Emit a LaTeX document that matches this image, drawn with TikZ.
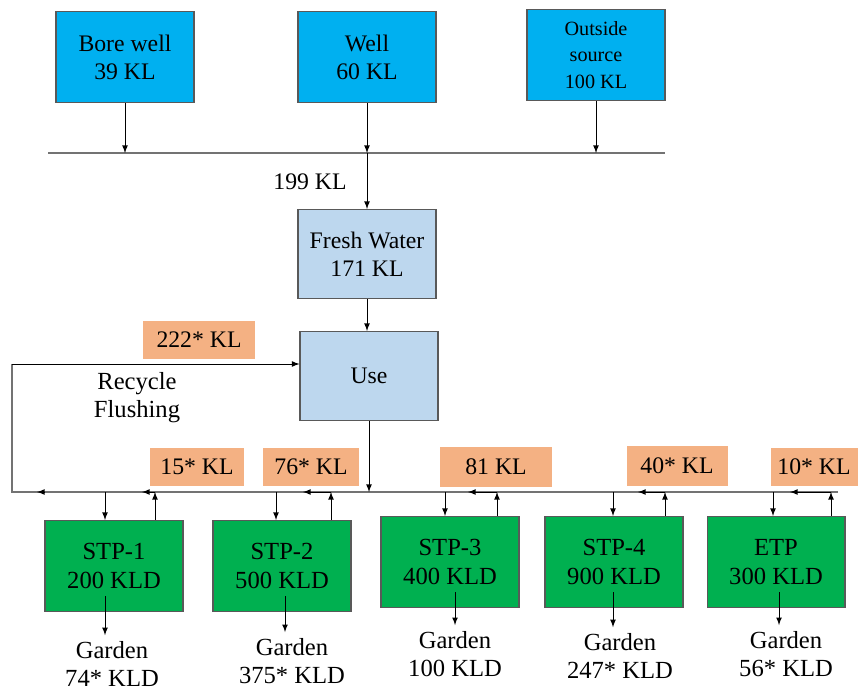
\documentclass[tikz,border=0pt]{standalone}
\usepackage{fontspec}
\setmainfont{Liberation Serif}
\usetikzlibrary{calc}
\definecolor{srcblue}{HTML}{00B0F0}
\definecolor{useblue}{HTML}{BDD7EE}
\definecolor{stpgreen}{HTML}{00B050}
\definecolor{flowpeach}{HTML}{F4B183}
\tikzset{
  box/.style={draw=black!65, line width=0.6pt, align=center, inner sep=0pt,
    minimum width=2.76cm, minimum height=1.82cm},
  src/.style={box, fill=srcblue},
  use/.style={box, fill=useblue, minimum height=1.78cm},
  stp/.style={box, fill=stpgreen, font=\fontsize{14}{16.5}\selectfont},
  flow/.style={fill=flowpeach, inner sep=0pt, minimum height=0.77cm},
  bus/.style={draw=black!55, line width=1pt},
  txt/.style={align=center, font=\fontsize{14}{16}\selectfont}
}
\begin{document}
\begin{tikzpicture}[x=0.02cm, y=-0.02cm, >=latex, line width=0.5pt,
  every node/.style={font=\fontsize{13.5}{16}\selectfont}]
  \useasboundingbox (0,0) rectangle (864,692);

  \node[src] (bore) at (125,57) {Bore well\\39 KL};
  \node[src] (well) at (367,57) {Well\\60 KL};
  \node[src, font=\fontsize{11.5}{15.3}\selectfont] (out) at (596,55) {Outside\\source\\100 KL};

  \coordinate (tl) at (48,153);
  \coordinate (tr) at (665,153);
  \draw[bus] (tl) -- (tr);
  \draw[->] (bore) -- (bore |- tl);
  \draw[->] (well) -- (well |- tl);
  \draw[->] (out) -- (out |- tl);

  \node[use] (fresh) at (367,254) {Fresh Water\\171 KL};
  \node (tot) at (310,182) {199 KL};
  \draw[->] (well |- tl) -- (fresh);

  \node[use] (use) at (369,376) {Use};
  \draw[->] (fresh) -- (fresh |- use.north);

  \coordinate (bl) at (12,492);
  \coordinate (br) at (838,492);
  \coordinate (lc) at (12,364);
  \draw[bus] (br) -- (bl) -- (lc);
  \draw[->] (lc) -- (lc -| use.west);
  \draw[->] (use) -- (use |- bl);

  \node[flow, minimum width=2.24cm] (r222) at (199,340) {222* KL};
  \node[txt] (rf) at (137,398) {Recycle\\Flushing};

  \node[flow, minimum width=1.9cm] (f15) at (197,467) {15* KL};
  \node[flow, minimum width=1.94cm] (f76) at (311,467) {76* KL};
  \node[flow, minimum width=2.24cm, minimum height=0.8cm] (f81) at (496,467) {81 KL};
  \node[flow, minimum width=2.02cm, minimum height=0.8cm] (f40) at (677,466) {40* KL};
  \node[flow, minimum width=1.74cm] (f10) at (814,467) {10* KL};

  \node[stp] (s1) at (114,566) {STP-1\\200 KLD};
  \node[stp] (s2) at (282,566) {STP-2\\500 KLD};
  \node[stp] (s3) at (450,562) {STP-3\\400 KLD};
  \node[stp] (s4) at (614,562) {STP-4\\900 KLD};
  \node[stp] (etp) at (776,562) {ETP\\300 KLD};

  \node[txt, font=\fontsize{14}{15.9}\selectfont] (gs1) at (112,664) {Garden\\74* KLD};
  \node[txt, font=\fontsize{14}{15.9}\selectfont] (gs2) at (292,661) {Garden\\375* KLD};
  \node[txt, font=\fontsize{14}{15.9}\selectfont] (gs3) at (455,654) {Garden\\100 KLD};
  \node[txt, font=\fontsize{14}{15.9}\selectfont] (gs4) at (620,656) {Garden\\247* KLD};
  \node[txt, font=\fontsize{14}{15.9}\selectfont] (getp) at (786,654) {Garden\\56* KLD};

  \foreach \n/\d/\u/\t/\g in {s1/-9/41/13/-9, s2/-6/49/28/3, s3/-5/47/29/5, s4/-1/51/27/-1, etp/-3/55/41/3}{
    \coordinate (dn) at ($(\n.north)+(\d,0)$);
    \coordinate (up) at ($(\n.north)+(\u,0)$);
    \coordinate (gd) at ($(\n.center)+(\g,30)$);
    \draw[->] (dn |- bl) -- (dn);
    \draw[->] (up) -- (up |- bl);
    \draw[->] (up |- bl) -- ++(-\t,0);
    \draw[->] (gd) -- (gd |- g\n.north);
  }
  \coordinate (ft) at (37,492);
  \draw[->] (s1.north west |- bl) -- (ft);

\end{tikzpicture}
\end{document}
